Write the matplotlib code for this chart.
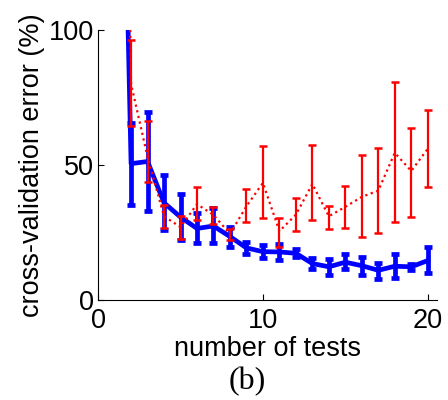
import matplotlib
matplotlib.use('Agg')
import matplotlib.pyplot as plt
import numpy as np

# blue series (solid): number of tests vs error
tests = np.arange(2, 21)
blue_mean = [50.5, 51.3, 36, 30.7, 26.5, 27.4, 23.5, 19.3, 17.9, 17.8, 17.3, 13.5, 12.3, 14.0, 12.7, 11.0, 12.5, 12.3, 14.6]
blue_lo = [35.2, 33.0, 26.0, 22.2, 21.0, 21.0, 19.7, 17.0, 15.4, 14.8, 15.8, 11.5, 9.3, 11.4, 9.3, 7.7, 8.0, 11.1, 9.9]
blue_hi = [65.5, 69.7, 46.3, 39.1, 32.1, 34.0, 27.2, 21.6, 20.4, 20.7, 18.8, 15.4, 15.1, 17.0, 16.0, 13.8, 17.0, 13.3, 19.7]

# red series (dotted)
red_mean = [80, 53, 31, 27, 35.5, 31.5, 24.5, 34.7, 43.4, 25.5, 31.6, 43.0, 31.0, 34.5, 38.2, 40.5, 54.5, 47.8, 56.0]
red_lo = [64.4, 43.6, 26.5, 22.5, 29.6, 28.1, 22.2, 29.0, 30.2, 19.7, 25.6, 29.6, 26.3, 26.8, 23.2, 24.9, 29.0, 30.9, 42.0]
red_hi = [96.3, 66.4, 35.2, 31.1, 42.0, 34.3, 26.2, 41.0, 57.0, 30.2, 37.9, 57.4, 34.8, 42.3, 53.8, 56.2, 80.9, 63.8, 70.4]

# both curves start at 100% just left of the first test
start_x_blue = 1.82
start_x_red = 1.95
start_val = 100

blue_mean = np.array(blue_mean)
red_mean = np.array(red_mean)
blue_err = [blue_mean - np.array(blue_lo), np.array(blue_hi) - blue_mean]
red_err = [red_mean - np.array(red_lo), np.array(red_hi) - red_mean]

plt.rcParams['font.family'] = ['Liberation Sans', 'DejaVu Sans']

fig = plt.figure(figsize=(4.48, 4.0), dpi=100)
ax = fig.add_axes([0.219, 0.25, 0.756, 0.675])

ax.plot(np.r_[start_x_blue, tests], np.r_[start_val, blue_mean], color='blue', lw=3.4,
        solid_joinstyle='round')
ax.errorbar(tests, blue_mean, yerr=blue_err, fmt='none', ecolor='blue', elinewidth=3.4,
            capsize=3.2, capthick=3.4)

ax.plot(np.r_[start_x_red, tests], np.r_[start_val, red_mean], color='red', lw=1.6,
        linestyle=(0, (1, 1.6)))
ax.errorbar(tests, red_mean, yerr=red_err, fmt='none', ecolor='red', elinewidth=1.6,
            capsize=3.0, capthick=1.8)

ax.set_xlim(0, 20.55)
ax.set_ylim(0, 100)
ax.set_xticks([0, 10, 20])
ax.set_yticks([0, 50, 100])
ax.spines['top'].set_visible(False)
ax.spines['right'].set_visible(False)
ax.tick_params(direction='in', length=4, width=0.8, labelsize=19.5)
ax.tick_params(axis='x', pad=6)
ax.tick_params(axis='y', pad=3)
ax.set_xlabel('number of tests', fontsize=19.5, labelpad=1)
ax.set_ylabel('cross-validation error (%)', fontsize=19.5, labelpad=2.5)

fig.text(0.553, 0.01, '(b)', fontsize=23, family=['Liberation Serif'], ha='center', va='bottom')

fig.savefig('out.png', dpi=100)
